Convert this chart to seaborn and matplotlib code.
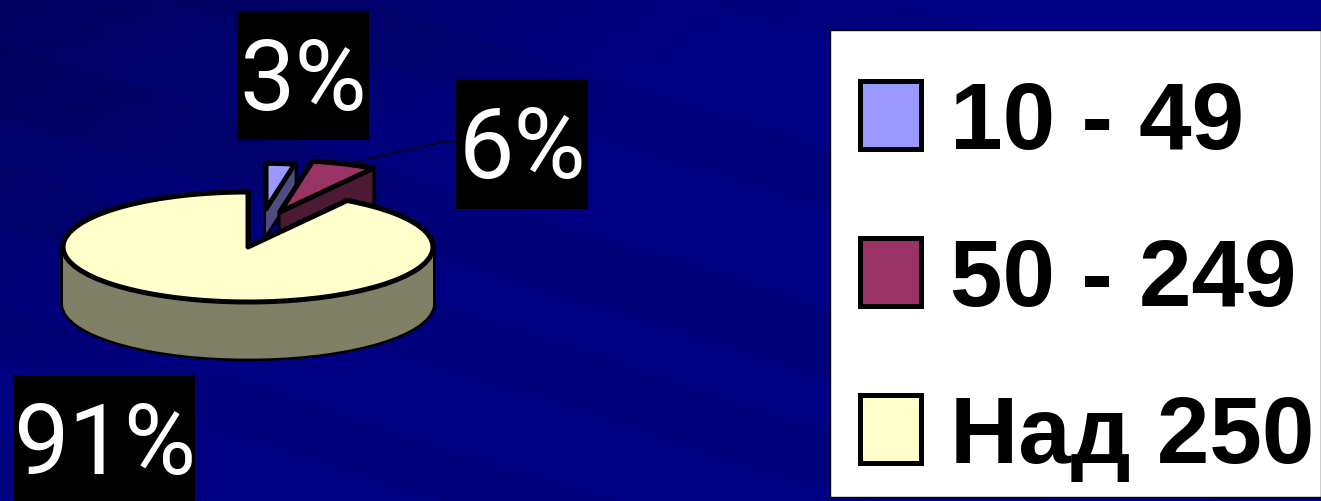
# -*- coding: utf-8 -*-
import numpy as np
from matplotlib import pyplot as plt
from matplotlib.patches import Rectangle, Polygon
import seaborn as sns

# Data ~~~~~~~~~~~~~~~~~~~~~~~~~~~~~~~~~~~~~~~~~~~~~~~~~~~~~~~~~~~~~~~~~
categories = ['10 - 49', '50 - 249', 'Над 250']
shares = [3, 6, 91]
top_colors = ['#9999FF', '#993366', '#FFFFCC']

sns.set_theme(style="white")
plt.rcParams['font.family'] = ['Liberation Sans', 'DejaVu Sans']

W, H = 1321, 502
palette = sns.color_palette(top_colors)
wall_colors = [tuple(c * 0.5 for c in rgb) for rgb in palette]

fig = plt.figure(figsize=(W / 100, H / 100), dpi=100)

# Background, pixel coordinates ~~~~~~~~~~~~~~~~~~~~~~~~~~~~~~~~~~~~~~~~
bg = fig.add_axes([0, 0, 1, 1])
bg.axis('off')
xx, yy = np.meshgrid(np.linspace(0, 1, 80), np.linspace(0, 1, 40))
shade = np.clip(0.42 - 0.7 * xx - 0.5 * yy, 0, 1)
base = np.dstack([0 * shade, 0 * shade, (132 - 90 * shade) / 255])
bg.imshow(base, extent=(0, W, H, 0), aspect='auto', zorder=0)
for x0, y0, thick, alpha in [(-50, 30, 70, .16), (-50, 150, 60, .14), (-50, 290, 55, .14),
                             (-50, -130, 60, .12), (-50, 420, 60, .08), (-50, -300, 60, .08)]:
    x1 = x0 + 1600
    y1 = y0 + 0.32 * 1600
    bg.add_patch(Polygon([(x0, y0), (x1, y1), (x1, y1 + thick), (x0, y0 + thick)],
                         closed=True, fc='#000040', ec='none', alpha=alpha, zorder=1))
bg.set_xlim(0, W)
bg.set_ylim(H, 0)

# Pie, squashed so it looks tilted ~~~~~~~~~~~~~~~~~~~~~~~~~~~~~~~~~~~~~
cx, cy, rx, ry = 248, 248, 185, 55
ax = fig.add_axes([0, 0, 1, 1], zorder=2)
ax.patch.set_alpha(0)

radius = [0.83, 0.94, 1.0]
shift_x = [18 / rx, 32 / rx, 0]
shift_y = [38 / ry, 35 / ry, 0]
depth = [0.45, 0.8, 1.03]
layer = 0


def draw_pie(d, colors, edge, lw):
    global layer
    layer += 1
    wedges, _ = ax.pie(shares, colors=colors, startangle=90, counterclock=False, normalize=True,
                       wedgeprops=dict(edgecolor=edge, linewidth=lw, joinstyle='round'))
    for i, w in enumerate(wedges):
        w.set_radius(radius[i])
        w.set_center((shift_x[i], shift_y[i] - d * depth[i]))
        w.set_zorder(i + 1 + layer * 1e-4)
    return wedges


steps = np.linspace(1, 0, 45)
# black silhouette of the side walls, then fill it, then the top faces
for d in steps:
    draw_pie(d, ['black'] * 3, 'black', 3.6)
for d in steps:
    draw_pie(d, wall_colors, 'none', 0)
top = draw_pie(0, palette, 'black', 3.6)

ax.set_aspect('auto')
ax.set_xlim((0 - cx) / rx, (W - cx) / rx)
ax.set_ylim((cy - H) / ry, cy / ry)
ax.set_xticks([])
ax.set_yticks([])
ax.set_frame_on(False)

# Value labels ~~~~~~~~~~~~~~~~~~~~~~~~~~~~~~~~~~~~~~~~~~~~~~~~~~~~~~~~~
boxes = [(238, 12, 131, 129), (456, 80, 132, 130), (14, 376, 181, 126)]
label_y = [110, 178, 474]
label_ax = fig.add_axes([0, 0, 1, 1], zorder=3)
label_ax.patch.set_alpha(0)
label_ax.axis('off')
label_ax.set_xlim(0, W)
label_ax.set_ylim(H, 0)
for value, (x, y, w, h), base_y in zip(shares, boxes, label_y):
    label_ax.add_patch(Rectangle((x, y), w, h, fc='black', ec='none'))
    label_ax.text(x + w / 2, base_y, f'{value}%', color='white', fontsize=71,
                  ha='center', va='baseline', family=['Roboto', 'Liberation Sans'])
label_ax.plot([345, 443, 456], [165, 143, 143], color='black', lw=1)

# Legend ~~~~~~~~~~~~~~~~~~~~~~~~~~~~~~~~~~~~~~~~~~~~~~~~~~~~~~~~~~~~~~~
label_ax.add_patch(Rectangle((830, 31), 491, 467, fc='white', ec='black', lw=1))
leg = label_ax.legend(top, categories, loc='upper left',
                      bbox_to_anchor=(860 / W, 1 - 80 / H), frameon=False,
                      prop=dict(size=68, weight='bold'), borderaxespad=0,
                      handlelength=0.65, handleheight=0.74, handletextpad=0.3,
                      labelspacing=0.72, borderpad=0)
for t in leg.get_texts():
    t.set_color('black')

fig.savefig('out.png', dpi=100)
